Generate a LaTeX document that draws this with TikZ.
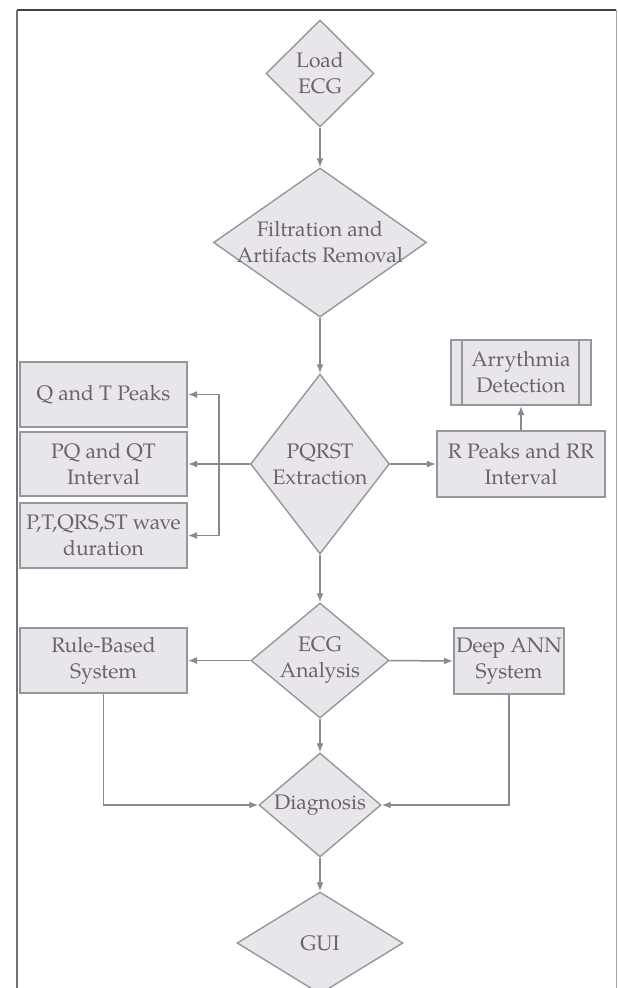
\documentclass[tikz,border=0pt]{standalone}
\usepackage{fontspec}
\setmainfont{TeX Gyre Pagella}
\usetikzlibrary{shapes.geometric,arrows.meta,calc}
\definecolor{boxfill}{HTML}{E8E6EA}
\definecolor{boxline}{HTML}{98969B}
\definecolor{txtcol}{HTML}{6A626E}
\definecolor{arrcol}{HTML}{8A8890}
\tikzset{
  dia/.style={diamond, draw=boxline, fill=boxfill, line width=1.4pt, inner sep=0pt},
  boxn/.style={rectangle, draw=boxline, fill=boxfill, line width=2pt, inner sep=0pt},
  lbl/.style={text=txtcol, align=center, font=\fontsize{21}{26}\selectfont, inner sep=0pt},
  conn/.style={draw=arrcol, line width=1.5pt, -{Latex[length=9pt,width=7pt]}}
}
\begin{document}
\begin{tikzpicture}[x=1pt,y=-1pt]
\clip (0,0) rectangle (618,988);
\fill[white] (0,0) rectangle (618,988);
% frame
\draw[line width=1.8pt, draw=black!75] (17,10) -- (616,10);
\draw[line width=1.8pt, draw=black!55] (17,10) -- (17,990);
\draw[line width=1pt, draw=black!35] (616,10) -- (616,990);

% diamonds
\node[dia, minimum width=108, minimum height=107] (load) at (320,73.5) {};
\node[lbl] at (load) {Load\\ECG};
\node[dia, minimum width=213, minimum height=149] (filt) at (320,242.5) {};
\node[lbl] at (filt) {Filtration and\\Artifacts Removal};
\node[dia, minimum width=139, minimum height=180] (pqrst) at (320,464) {};
\node[lbl] at (pqrst) {PQRST\\Extraction};
\node[dia, minimum width=138, minimum height=115] (ecg) at (320,660.5) {};
\node[lbl] at (ecg) {ECG\\Analysis};
\node[dia, minimum width=122, minimum height=104] (diag) at (320,805) {};
\node[lbl] at (diag) {Diagnosis};
\node[dia, minimum width=166, minimum height=102] (gui) at (320,943) {};
\node[lbl] at (gui) {GUI};

% boxes
\node[boxn, minimum width=167, minimum height=65] (qt) at (103.5,394.5) {};
\node[lbl] at (qt) {Q and T Peaks};
\node[boxn, minimum width=167, minimum height=64] (pq) at (103.5,464) {};
\node[lbl] at (pq) {PQ and QT\\Interval};
\node[boxn, minimum width=167, minimum height=65] (pt) at (103.5,535.5) {};
\node[lbl] at (pt) {P,T,QRS,ST wave\\duration};
\node[boxn, minimum width=168, minimum height=66] (rpk) at (521,464) {};
\node[lbl] at (rpk) {R Peaks and RR\\Interval};
\node[boxn, minimum width=140, minimum height=65] (arr) at (521,372.5) {};
\draw[draw=boxline, line width=1.4pt] ($(arr.north west)+(12,0)$) -- ($(arr.south west)+(12,0)$);
\draw[draw=boxline, line width=1.4pt] ($(arr.north east)+(-13,0)$) -- ($(arr.south east)+(-13,0)$);
\node[lbl] at (arr) {Arrythmia\\Detection};
\node[boxn, minimum width=167, minimum height=65] (rule) at (103.5,660.5) {};
\node[lbl] at (rule) {Rule-Based\\System};
\node[boxn, minimum width=110, minimum height=66] (ann) at (509,661) {};
\node[lbl] at (ann) {Deep ANN\\System};

% connectors
\draw[conn] (load.south) -- (filt.north);
\draw[conn] (filt.south) -- (pqrst.north);
\coordinate (brk) at (219,464);
\draw[conn] (pqrst.west) -- (pq.east);
\draw[conn] (brk) |- (qt.east);
\draw[conn] (brk) |- (pt.east);
\draw[conn] (pqrst.east) -- (rpk.west);
\draw[conn] (rpk.north) -- (arr.south);
\draw[conn] (pqrst.south) -- (ecg.north);
\draw[conn] (ecg.west) -- (rule.east);
\draw[conn] (ecg.east) -- (ann.west);
\draw[conn] (ecg.south) -- (diag.north);
\draw[conn] (rule.south) |- (diag.west);
\draw[conn] (ann.south) |- (diag.east);
\draw[conn] (diag.south) -- (gui.north);
\end{tikzpicture}
\end{document}
